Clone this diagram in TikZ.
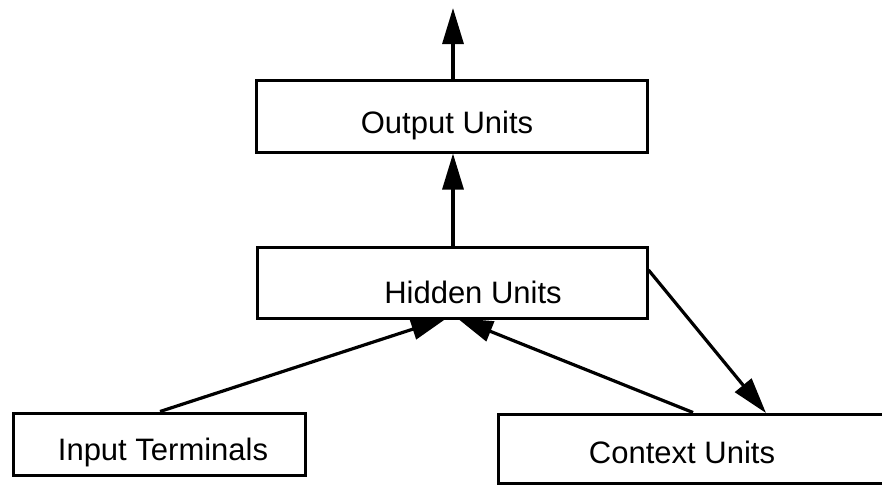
\documentclass[tikz,border=0pt]{standalone}
\usepackage{fontspec}
\setmainfont{Liberation Sans}
\usetikzlibrary{arrows.meta}
\begin{document}
\begin{tikzpicture}[x=1pt,y=-1pt,
  box/.style={draw,line width=3pt,inner sep=0pt},
  lbl/.style={font=\fontsize{31}{36}\selectfont,inner sep=0pt},
  conn/.style={line width=3.2pt,-{Triangle[length=36pt,width=21pt]}}]
\useasboundingbox (0,0) rectangle (882,485);
\begin{scope}
\clip (0,0) rectangle (882,485);
\node[box,minimum width=391pt,minimum height=72pt] (out) at (451.5,116) {};
\node[box,minimum width=390pt,minimum height=71pt] (hid) at (452,282.5) {};
\node[box,minimum width=292pt,minimum height=62pt] (inp) at (159,444) {};
\node[box,minimum width=420pt,minimum height=69pt] (ctx) at (708,448.5) {};
\end{scope}
\node[lbl] at (447,125) {Output Units};
\node[lbl] at (473,292) {Hidden Units};
\node[lbl] at (163,452) {Input Terminals};
\node[lbl] at (682,452) {Context Units};
\coordinate (top) at (453,8);
\coordinate (hb) at (450,318);
\draw[conn] (out.north -| top) -- (top);
\draw[conn] (hid.north -| top) -- (out.south -| top);
\draw[conn] (inp.north -| 160,0) -- (447,318);
\draw[conn] (ctx.north -| 693,0) -- (457,318);
\draw[conn] (hid.east |- 0,270) -- (766,413);
\end{tikzpicture}
\end{document}
